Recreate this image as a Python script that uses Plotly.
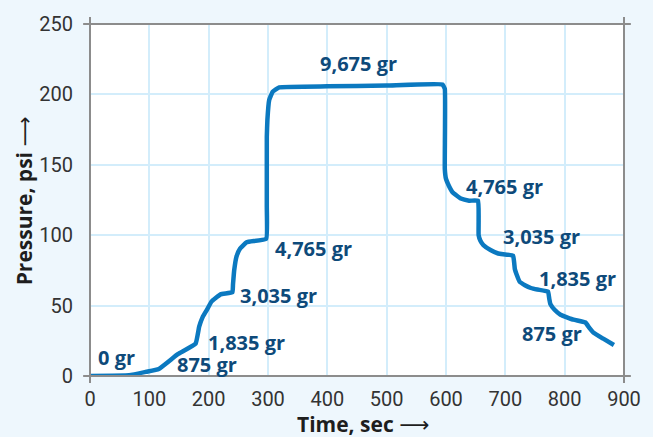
import plotly.graph_objects as go

# (time in sec, pressure in psi)
time_sec = [0, 66, 95, 116, 148, 178, 184, 190, 197, 205, 220, 240, 241, 243, 247, 253, 264,
            297, 298, 298, 299, 302, 308, 319, 400, 500, 594, 598, 598, 600, 605, 611, 625,
            639, 654, 655, 655, 658, 663, 675, 688, 713, 715, 716, 720, 724, 733, 743, 754,
            772, 774, 776, 783, 793, 815, 835, 842, 848, 865, 883]
pressure_psi = [0, 0.5, 3, 5, 15.5, 23, 35, 42, 47, 53, 58, 59.5, 65, 75, 85, 90.5, 95,
                97.5, 120, 170, 182, 196, 202, 205, 205.7, 206.3, 207, 204, 147, 140, 135, 130.5, 126,
                124.5, 124.5, 110, 100, 96, 93, 89.5, 87, 85.5, 80, 76, 71, 67, 64.5, 62.5, 61.4,
                60, 55, 51, 47, 43.5, 40, 38, 34, 31, 26.5, 22]

label_text = ["0 gr", "875 gr", "1,835 gr", "3,035 gr", "4,765 gr", "9,675 gr",
              "4,765 gr", "3,035 gr", "1,835 gr", "875 gr"]
label_x = [10, 143, 195, 249, 309, 384, 631, 692, 753, 725]
label_y = [13, 8.2, 24, 57.5, 90.5, 222, 134.5, 99, 69.5, 30]

x_ticks = [0, 100, 200, 300, 400, 500, 600, 700, 800, 900]
y_ticks = [0, 50, 100, 150, 200, 250]

LINE = "#0b79c0"
LABEL = "#0e4a7a"
BG = "#eef7fd"
GRID = "#d3edfb"
AXIS = "#8c8c8c"
ARROW = '<span style="font-family:DejaVu Sans">⟶</span>'

fig = go.Figure()
fig.add_trace(go.Scatter(x=time_sec, y=pressure_psi, mode="lines",
                         line=dict(color=LINE, width=4.5, shape="spline", smoothing=0.3),
                         hoverinfo="skip", showlegend=False))

for t, x, y in zip(label_text, label_x, label_y):
    fig.add_annotation(x=x, y=y, text="<b>%s</b>" % t, showarrow=False,
                       xanchor="left", yanchor="middle",
                       font=dict(family="Open Sans", size=20, color=LABEL))

# Axis titles
fig.add_annotation(xref="paper", yref="paper", x=(369 - 90) / 545, y=(376 - 425) / 356,
                   text="<b>Time, sec</b> " + ARROW,
                   showarrow=False, xanchor="center", yanchor="middle",
                   font=dict(family="Open Sans", size=21, color="#1e1e1e"))
fig.add_annotation(xref="paper", yref="paper", x=(23 - 90) / 545, y=(376 - 199) / 356,
                   text="<b>Pressure, psi</b> " + ARROW,
                   showarrow=False, xanchor="center", yanchor="middle", textangle=-90,
                   font=dict(family="Open Sans", size=21, color="#1e1e1e"))

# Frame lines, slightly extended beyond the corners
ex, ey = 7 / 545, 7 / 356
for x0, y0, x1, y1 in [(-ex, 0, 1 + ex, 0), (-ex, 1, 1 + ex, 1),
                       (0, -ey, 0, 1 + ey), (1, -ey, 1, 1 + ey)]:
    fig.add_shape(type="line", xref="paper", yref="paper", x0=x0, y0=y0, x1=x1, y1=y1,
                  line=dict(color=AXIS, width=2), layer="above")

fig.update_layout(
    width=653, height=437,
    margin=dict(l=90, r=18, t=20, b=61),
    paper_bgcolor=BG, plot_bgcolor="white",
    font=dict(family="Roboto", size=20, color="#333333"),
)
fig.update_xaxes(range=[0, 900], tickvals=x_ticks, showgrid=True, gridcolor=GRID, gridwidth=2,
                 zeroline=False, showline=False, ticks="outside", ticklen=5,
                 tickcolor="rgba(0,0,0,0)")
fig.update_yaxes(range=[0, 250], tickvals=y_ticks, showgrid=True, gridcolor=GRID, gridwidth=2,
                 zeroline=False, showline=False, ticks="outside", ticklen=12,
                 tickcolor="rgba(0,0,0,0)")

fig.write_html("out.html", config={"displayModeBar": False},
               post_script="document.body.style.margin='0';document.body.style.background='%s';" % BG)
